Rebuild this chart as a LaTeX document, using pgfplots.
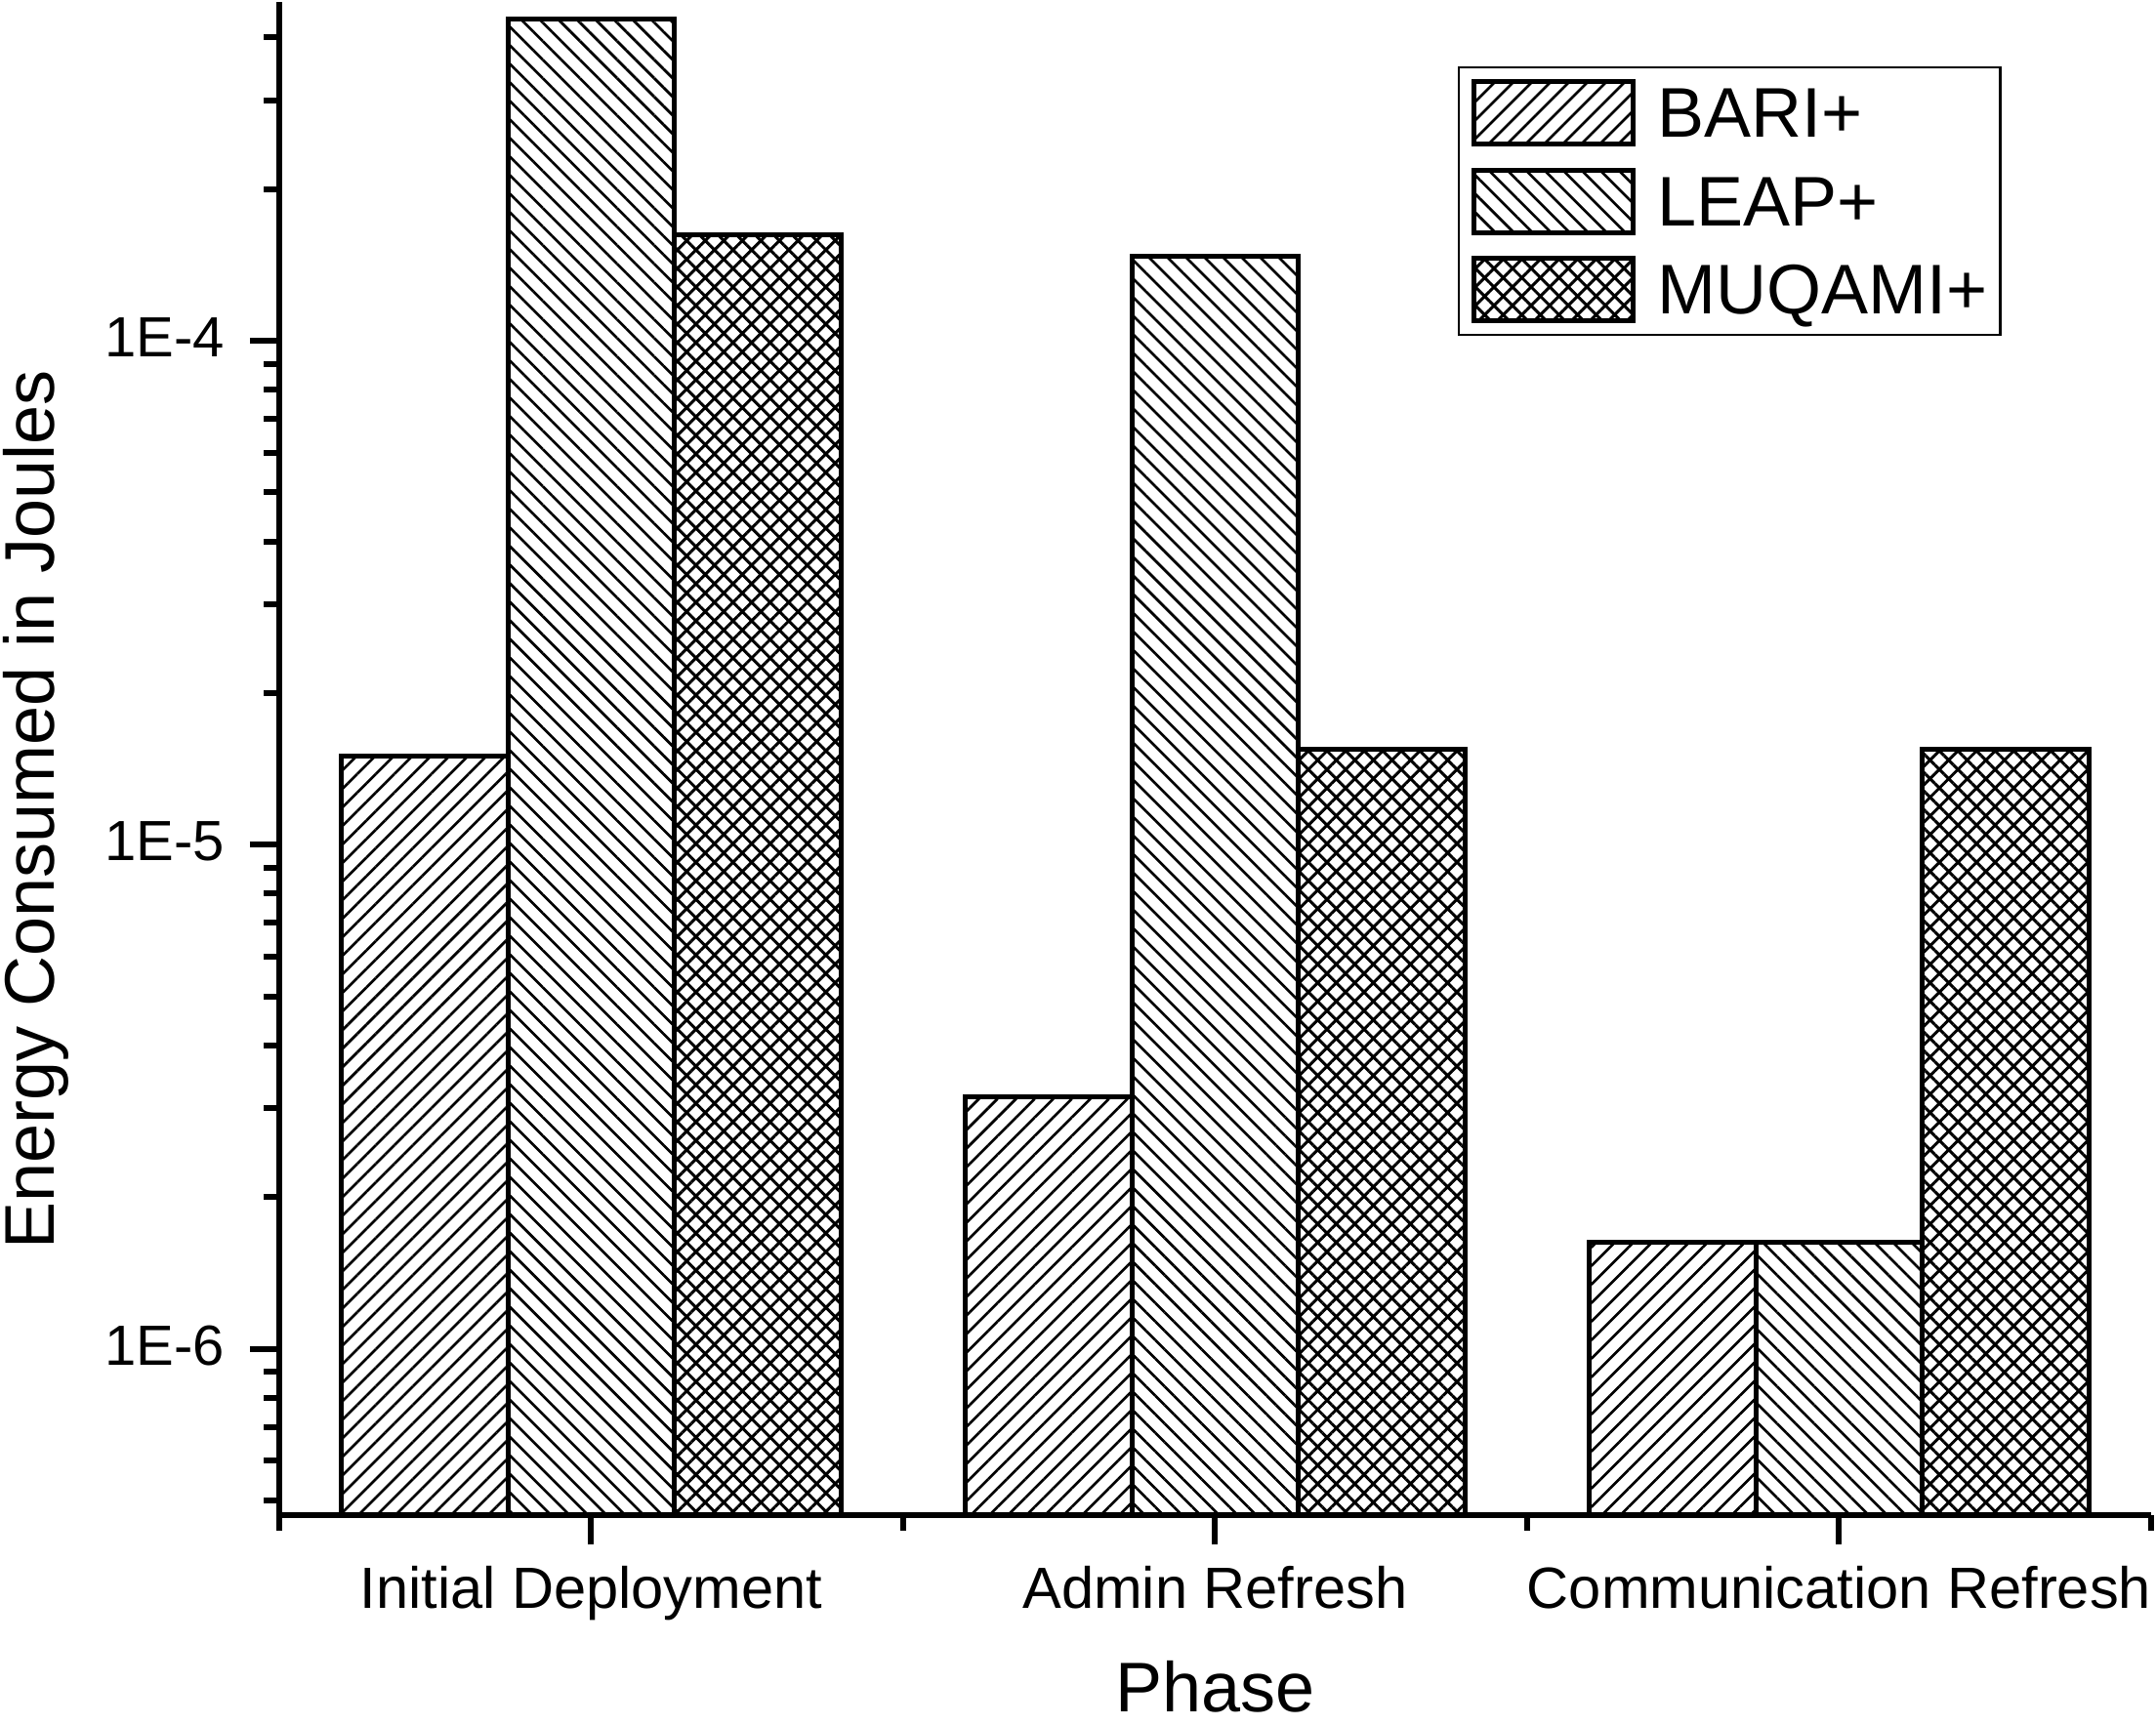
\documentclass[border=0pt]{standalone}
\usepackage{fontspec}
\setmainfont{Liberation Sans}
\usepackage{pgfplots}
\pgfplotsset{compat=1.18}
\usetikzlibrary{patterns.meta}

\pgfplotsset{
  mylegend/.style={legend image code/.code={%
    \pgfpathrectangle{\pgfpoint{0pt}{-11.3pt}}{\pgfpoint{47pt}{22.6pt}}\pgfusepath{}%
    \draw[##1] (0pt,-8pt) rectangle (40.75pt,8pt);}},
  barstyle/.style={draw=black, line width=1.25pt},
}

\begin{document}
\begin{tikzpicture}
\useasboundingbox (-71.5pt,-53.75pt) rectangle (480.5pt,388pt);
\begin{axis}[
  at={(0pt,0pt)}, anchor=south west,
  width=479.25pt, height=387.5pt, scale only axis,
  ymode=log, log origin=infty,
  xmin=0.5, xmax=3.5, ymin=4.68e-7, ymax=4.7e-4,
  ybar=0pt, bar width=0.2667,
  axis lines*=left,
  axis line style={line width=1.5pt},
  tick align=outside,
  major tick length=7.5pt, minor tick length=3.9pt,
  tick style={black, line width=1.5pt},
  xtick={1,2,3},
  xticklabels={Initial Deployment, Admin Refresh, Communication Refresh},
  minor xtick={0.5,1.5,2.5,3.5},
  ytick={1e-6,1e-5,1e-4},
  yticklabels={1E-6,1E-5,1E-4},
  minor ytick={5e-7,6e-7,7e-7,8e-7,9e-7,2e-6,3e-6,4e-6,5e-6,6e-6,7e-6,8e-6,9e-6,2e-5,3e-5,4e-5,5e-5,6e-5,7e-5,8e-5,9e-5,2e-4,3e-4,4e-4},
  xticklabel style={font=\fontsize{14.9}{18}\selectfont, anchor=base, inner sep=0pt, yshift=-16.5pt},
  yticklabel style={font=\fontsize{14.5}{17}\selectfont, anchor=east, inner sep=0pt, xshift=-6.25pt, yshift=0.8pt},
  xlabel={Phase}, ylabel={Energy Consumed in Joules},
  label style={font=\fontsize{18}{21}\selectfont},
  xlabel style={at={(axis description cs:0.5,-0.1303)}, anchor=base, inner sep=0pt},
  ylabel style={at={(axis description cs:-0.1205,0.466)}, anchor=base, inner sep=0pt},
  legend style={at={(axis description cs:0.6296,0.9574)}, anchor=north west,
    draw=black, line width=0.6pt, fill=white, inner xsep=3.25pt, inner ysep=0.35pt,
    row sep=0pt, font=\fontsize{18}{21}\selectfont,
    nodes={inner sep=0pt, text depth=0pt}},
  legend cell align=left,
]
\addplot[barstyle, pattern={Lines[angle=45,distance=3.36pt,line width=0.67pt]}, mylegend]
  coordinates {(1,1.50e-5) (2,3.16e-6) (3,1.626e-6)};
\addplot[barstyle, pattern={Lines[angle=-45,distance=3.36pt,line width=0.67pt]}, mylegend]
  coordinates {(1,4.34e-4) (2,1.471e-4) (3,1.626e-6)};
\addplot[barstyle, pattern={Hatch[angle=45,distance=3.36pt,line width=0.75pt]}, mylegend]
  coordinates {(1,1.62e-4) (2,1.55e-5) (3,1.55e-5)};
\legend{BARI+, LEAP+, MUQAMI+}
\end{axis}
\end{tikzpicture}
\end{document}
